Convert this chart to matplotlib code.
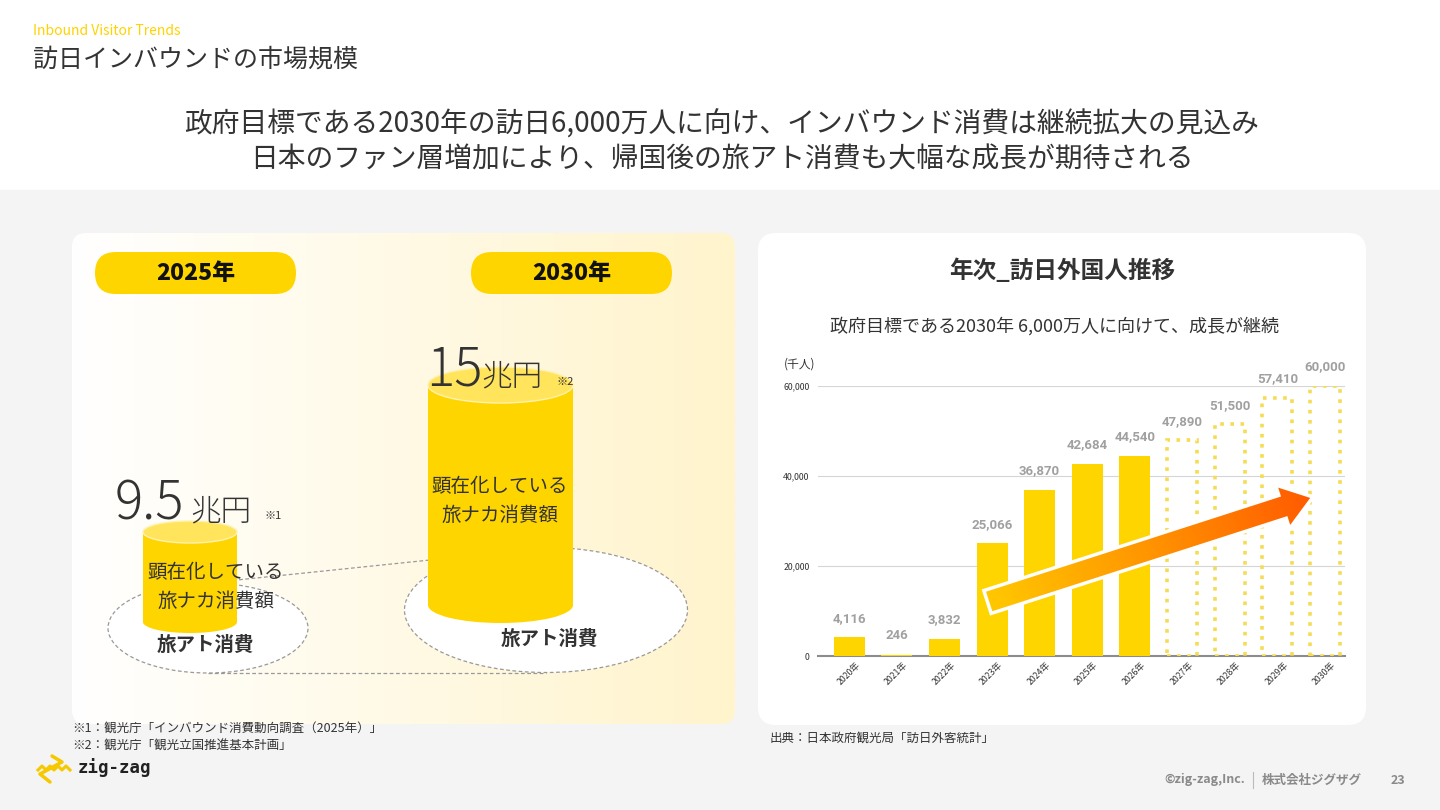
import numpy as np
import matplotlib
matplotlib.use('Agg')
import matplotlib.pyplot as plt
from matplotlib.patches import FancyBboxPatch, Ellipse, Rectangle, FancyArrow
from matplotlib.colors import LinearSegmentedColormap, to_rgb
from matplotlib.transforms import ScaledTranslation

# 日本語フォント
plt.rcParams['font.family'] = ['Noto Sans CJK JP', 'DejaVu Sans']

# ---- データ ----
years = ['2020年', '2021年', '2022年', '2023年', '2024年', '2025年',
         '2026年', '2027年', '2028年', '2029年', '2030年']
visitors = [4116, 246, 3832, 25066, 36870, 42684, 44540, 47890, 51500, 57410, 60000]
is_target = [False, False, False, False, False, False, False, True, True, True, True]
y_ticks = [0, 20000, 40000, 60000]

spend_years = ['2025年', '2030年']
spend_values = ['9.5', '15']
spend_notes = ['※1', '※2']

YELLOW = '#FFD500'
TOP = '#FFE45C'
DARK = '#333333'

fig = plt.figure(figsize=(14.4, 8.1), dpi=100)

# 背景用の軸（ピクセル座標）
bg = fig.add_axes([0, 0, 1, 1], zorder=0)
bg.set_xlim(0, 1440)
bg.set_ylim(810, 0)
bg.axis('off')

bg.add_patch(Rectangle((0, 0), 1440, 810, color='white', zorder=0))
bg.add_patch(Rectangle((0, 190), 1440, 620, color='#F4F4F4', zorder=0))

# 左パネル（グラデーション）
left_panel = FancyBboxPatch((72, 233), 663, 491, boxstyle='round,pad=0,rounding_size=14',
                            fc='none', ec='none', zorder=1)
bg.add_patch(left_panel)
c0, c1 = np.array(to_rgb('#FFFFFF')), np.array(to_rgb('#FFF4CC'))
t = np.linspace(0, 1, 256)[None, :, None]
grad = c0 + (c1 - c0) * t
im = bg.imshow(grad, extent=(72, 735, 724, 233), aspect='auto', zorder=1)
im.set_clip_path(left_panel)

# 右パネル
bg.add_patch(FancyBboxPatch((758, 233), 608, 492, boxstyle='round,pad=0,rounding_size=18',
                            fc='white', ec='none', zorder=1))
bg.set_xlim(0, 1440)
bg.set_ylim(810, 0)

# ヘッダー
bg.text(33, 31, 'Inbound Visitor Trends', color='#FFD200', fontsize=10, va='center')
bg.text(33, 60, '訪日インバウンドの市場規模', color=DARK, fontsize=18, va='center')
bg.text(722, 125, '政府目標である2030年の訪日6,000万人に向け、インバウンド消費は継続拡大の見込み',
        color=DARK, fontsize=20, ha='center', va='center')
bg.text(722, 160, '日本のファン層増加により、帰国後の旅アト消費も大幅な成長が期待される',
        color=DARK, fontsize=20, ha='center', va='center')

# 年のピル
for label, cx in zip(spend_years, [195.5, 571.5]):
    bg.add_patch(FancyBboxPatch((cx - 100.5, 252), 201, 42, boxstyle='round,pad=0,rounding_size=21',
                                fc=YELLOW, ec='none', zorder=2))
    bg.text(cx, 273, label, fontsize=16.5, fontweight='heavy', color='#111111',
            ha='center', va='center', zorder=3)

# 点線のつなぎ線と楕円
dash = dict(color='#999999', lw=0.9, ls=(0, (3, 2)))
bg.plot([208, 546], [583, 548], zorder=2, **dash)
bg.plot([208, 546], [673, 673], zorder=2, **dash)
for cx, cy, w, h in [(208, 628, 200, 90), (546, 610, 283, 125)]:
    bg.add_patch(Ellipse((cx, cy), w, h, fc='white', ec='#999999', lw=0.9,
                         ls=(0, (3, 2)), zorder=3))


def cylinder(cx, top, bottom, w, eh):
    bg.add_patch(Ellipse((cx, bottom), w, eh, fc=YELLOW, ec='none', zorder=4))
    bg.add_patch(Rectangle((cx - w / 2, top), w, bottom - top, fc=YELLOW, ec='none', zorder=4))
    bg.add_patch(Ellipse((cx, top), w, eh, fc=TOP, ec='#FFF2B0', lw=1, zorder=5))


cylinder(190, 532, 622, 94, 22)
cylinder(500.5, 385, 605, 145, 36)

# 金額
bg.text(115, 520, spend_values[0], fontsize=38, fontweight='light', color=DARK, va='baseline', zorder=6)
bg.text(190, 520, '兆円', fontsize=22, fontweight='light', color=DARK, va='baseline', zorder=6)
bg.text(264, 519, spend_notes[0], fontsize=8, color=DARK, va='baseline', zorder=6)
bg.text(426, 385, spend_values[1], fontsize=38, fontweight='light', color=DARK, va='baseline', zorder=6)
bg.text(481, 385, '兆円', fontsize=22, fontweight='light', color=DARK, va='baseline', zorder=6)
bg.text(557, 385, spend_notes[1], fontsize=8, color=DARK, va='baseline', zorder=6)

for cx, y1 in [(216, 573), (500, 487)]:
    bg.text(cx, y1, '顕在化している', fontsize=14, color=DARK, ha='center', va='center', zorder=6)
    bg.text(cx, y1 + 28, '旅ナカ消費額', fontsize=14, color=DARK, ha='center', va='center', zorder=6)

bg.text(205, 645, '旅アト消費', fontsize=14, fontweight='bold', color=DARK, ha='center', va='center', zorder=6)
bg.text(549, 639, '旅アト消費', fontsize=14, fontweight='bold', color=DARK, ha='center', va='center', zorder=6)

# 右パネルのタイトル
bg.text(1062, 271, '年次_訪日外国人推移', fontsize=17, fontweight='bold', color=DARK,
        ha='center', va='center', zorder=6)
bg.text(1055, 326, '政府目標である2030年 6,000万人に向けて、成長が継続', fontsize=13,
        color=DARK, ha='center', va='center', zorder=6)
bg.text(784, 364, '(千人)', fontsize=8.5, color=DARK, va='center', zorder=6)

# 注釈・出典
bg.text(72, 729, '※1：観光庁「インバウンド消費動向調査（2025年）」', fontsize=9, color=DARK, va='center')
bg.text(72, 746, '※2：観光庁「観光立国推進基本計画」', fontsize=9, color=DARK, va='center')
bg.text(770, 738, '出典：日本政府観光局「訪日外客統計」', fontsize=9, color=DARK, va='center')

# フッター
bg.text(1245, 780, '©zig-zag,Inc.', fontsize=9, fontweight='bold', color='#8A8A8A', ha='right', va='center')
bg.plot([1253, 1253], [772, 788], color='#BBBBBB', lw=0.8)
bg.text(1262, 780, '株式会社ジグザグ', fontsize=9, fontweight='bold', color='#8A8A8A', va='center')
bg.text(1398, 780, '23', fontsize=9, fontweight='bold', color='#8A8A8A', ha='center', va='center')

# ロゴ
bg.plot([52, 62, 40, 50], [756, 762, 774, 782], color='#F5C800', lw=2.5, solid_capstyle='round')
bg.plot([38, 42, 46, 50, 54, 58, 62, 66, 70], [770, 766, 770, 766, 770, 766, 770, 766, 770],
        color='#F5C800', lw=2.2)
bg.text(78, 768, 'zig-zag', family='DejaVu Sans Mono', fontsize=12.5, fontweight='bold',
        color='#222222', va='center')

# ---- 棒グラフ ----
ax = fig.add_axes([818 / 1440, (810 - 656) / 810, (1345 - 818) / 1440, 270 / 810], zorder=2)
ax.set_facecolor('none')
x = np.arange(len(years))
for xi, v, tgt in zip(x, visitors, is_target):
    if tgt:
        ax.bar(xi, v, width=0.63, fill=False, edgecolor='#F6DC55', linestyle=(0, (1, 1.8)),
               linewidth=2.6, zorder=3)
    else:
        ax.bar(xi, v, width=0.65, color=YELLOW, zorder=3)
    ax.annotate(f'{v:,}', (xi, v), xytext=(0, 19), textcoords='offset pixels',
                ha='center', va='center', fontsize=9.5, fontweight='bold', color='#A0A0A0',
                family=['Roboto', 'DejaVu Sans'], annotation_clip=False)

ax.set_xlim(-0.66, 10.42)
ax.set_ylim(0, 60000)
ax.set_yticks(y_ticks)
ax.set_yticklabels([f'{v:,}' for v in y_ticks])
ax.set_xticks(x)
ax.set_xticklabels(years, rotation=45, ha='right', rotation_mode='anchor')
ax.yaxis.grid(True, color='#D5D5D5', lw=0.8)
ax.set_axisbelow(True)
for s in ['top', 'right', 'left']:
    ax.spines[s].set_visible(False)
ax.spines['bottom'].set_color('#8C8C8C')
ax.spines['bottom'].set_linewidth(1.5)
ax.tick_params(axis='both', length=0, labelsize=6.3, labelcolor=DARK)
ax.tick_params(axis='y', pad=6)
ax.tick_params(axis='x', pad=3)
for lab in ax.get_xticklabels():
    lab.set_transform(lab.get_transform() + ScaledTranslation(0.06, 0, fig.dpi_scale_trans))

# ---- 矢印（グラデーション） ----
ov = fig.add_axes([0, 0, 1, 1], zorder=5)
ov.set_facecolor('none')
ov.axis('off')
ax0, ay0, adx, ady = 987.5, 602, 325.5, -105
arrow = FancyArrow(ax0, ay0, adx, ady, width=24, head_width=46, head_length=32,
                   length_includes_head=True, fc='none', ec='none')
ov.add_patch(arrow)
gx0, gx1, gy0, gy1 = 970, 1330, 470, 630
xx, yy = np.meshgrid(np.linspace(gx0, gx1, 300), np.linspace(gy0, gy1, 150))
L = np.hypot(adx, ady)
tt = np.clip(((xx - ax0) * adx + (yy - ay0) * ady) / L ** 2, 0, 1)
cmap = LinearSegmentedColormap.from_list('arr', ['#FFC800', '#FF9400', '#FF5A00'])
aim = ov.imshow(tt, cmap=cmap, extent=(gx0, gx1, gy1, gy0), aspect='auto', zorder=6)
aim.set_clip_path(arrow)
ov.add_patch(FancyArrow(ax0, ay0, adx, ady, width=24, head_width=46, head_length=32,
                        length_includes_head=True, fc='none', ec='white', lw=2.5, zorder=7))
ov.set_xlim(0, 1440)
ov.set_ylim(810, 0)

fig.savefig('out.png', dpi=100)
